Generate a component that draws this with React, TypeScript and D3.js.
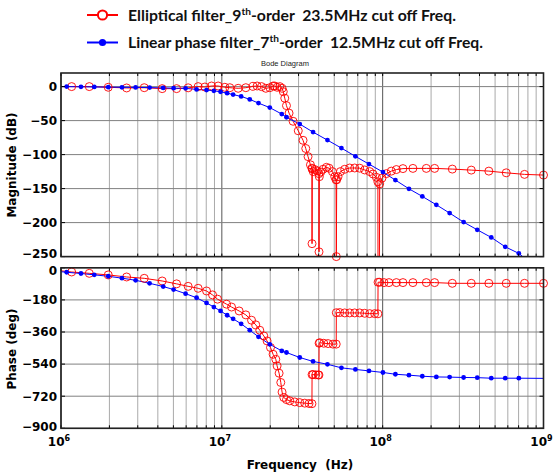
import * as d3 from 'd3'

// Linear phase filter (7th order): frequency grid in MHz, magnitude in dB, phase in degrees
const blueFreqMHz = [
  1.0, 1.085, 1.331, 1.61, 1.967, 2.393, 2.911, 3.555, 4.319, 5.012, 5.951, 6.965, 8.035, 8.92,
  9.815, 10.79, 11.75, 13.18, 14.92, 16.9, 19.87, 23.59, 25.23, 30.51, 36.91, 45.35, 55.4, 67.69,
  82.2, 100.4, 120.0, 145.7, 176.4, 215.6, 260.8, 318.6, 387.4, 473.4, 578.2, 702.5, 1000,
]
const blueMagDb = [
  0, 0, -0.3, -0.5, -0.8, -1.0, -1.2, -1.5, -1.9, -2.3, -2.6, -4.1, -5.1, -6.2, -7.6, -9.6, -11.8,
  -14.4, -18.8, -24.3, -30.9, -40.4, -45.1, -55.1, -66.9, -78.7, -90.4, -102.6, -114, -125.7,
  -137.5, -150.3, -161.5, -173.8, -186, -199.3, -210.6, -221.8, -235.6, -245.3, -275,
]
const bluePhaseDeg = [
  -22, -25, -32, -39.5, -47.5, -58, -70, -87, -105, -122, -145, -168, -197, -220, -242, -266, -286,
  -314, -350, -387, -429, -466, -475, -503, -525, -541, -561, -570, -578, -587, -597, -602, -608,
  -612, -613, -615, -616, -619, -619, -619, -620,
]

// Elliptical filter (9th order) magnitude
const redMagFreqMHz = [
  1.0, 1.165, 1.499, 1.967, 2.559, 3.292, 4.258, 5.232, 6.175, 7.125, 7.843, 8.63, 9.484, 10.44,
  11.21, 12.63, 14.1, 15.65, 16.57, 17.64, 18.77, 19.87, 20.83, 21.34, 22.06, 22.92, 23.69, 24.1,
  24.62, 25.23, 26.18, 27.73, 29.87, 31.99, 33.25, 34.36, 35.56, 36.33, 36.38, 36.49, 37.01, 37.81,
  39.2, 40.15, 40.21, 40.38, 41.2, 42.58, 44.7, 46.4, 48.71, 50.34, 51.29, 51.5, 51.8, 52.77, 54.62,
  58.08, 62.37, 67.0, 71.95, 77.3, 83.06, 87.09, 91.41, 93.37, 93.63, 95.27, 95.81, 99.0, 105.4,
  113.2, 121.7, 133.7, 154.2, 186.8, 210.4, 271.0, 355.6, 457.3, 586.5, 762.0, 1000,
]
const redMagDb = [
  0, 0, 0, -1, -2, -1.6, -3, -3, -1.8, 0, -0.6, 0.9, 0.9, -1, -1.6, -2.5, -1.6, 0.4, 0.9, 0, -2.5,
  -1.6, 0.9, 0.9, -1, 0, -2.5, -7.5, -17, -28, -39, -51, -65, -79, -91, -103, -115, -120, -231,
  -121, -125, -122, -124, -128, -243, -132.5, -125.6, -121.6, -118.7, -120, -125, -132.5, -137,
  -250, -137, -132.5, -125, -121.6, -119.7, -119.7, -120, -122.6, -125, -128.5, -133.4, -140, -320,
  -320, -143, -134.6, -128, -124.3, -122, -120.6, -120.3, -120.3, -120.3, -121.3, -122.8, -124.3,
  -126.8, -129.1, -130.1,
]

// Elliptical filter (9th order) phase, wrapped
const redPhaseFreqMHz = [
  1.0, 1.165, 1.499, 1.967, 2.559, 3.292, 4.258, 5.232, 6.175, 7.125, 8.035, 8.754, 9.404, 10.7,
  11.49, 12.81, 14.1, 15.3, 16.26, 17.22, 18.24, 19.11, 20.07, 20.83, 21.65, 22.06, 22.7, 23.26,
  23.69, 24.28, 25.23, 26.45, 28.4, 30.51, 32.77, 34.84, 36.33, 36.4, 36.91, 38.37, 39.77, 40.15,
  40.25, 40.62, 43.01, 45.73, 49.12, 51.42, 51.5, 54.06, 58.08, 62.37, 67.0, 71.95, 77.3, 83.06,
  89.2, 93.37, 93.63, 95.81, 101.9, 109.4, 121.7, 133.7, 154.2, 186.8, 210.4, 271.0, 355.6, 457.3,
  586.5, 762.0, 1000,
]
const redPhaseDeg = [
  -17, -23.5, -31, -40, -51.5, -59, -74, -90, -104, -115, -130, -152, -176, -204, -220, -242, -264,
  -294, -320, -350, -382, -410, -447, -485, -513, -550, -591, -643, -697, -727, -739, -746, -752,
  -756, -759, -761, -762, -599, -599, -600, -601, -601, -423, -420, -423, -425, -428, -428, -252,
  -251, -253, -253, -253, -253, -255, -257, -257, -258, -81, -81, -83, -83, -83, -83, -83, -83, -83,
  -87, -87, -87, -87, -87, -87,
]

const magTicks = [0, -50, -100, -150, -200, -250]
const phaseTicks = [0, -180, -360, -540, -720, -900]
const decades = [6, 7, 8, 9]

const legendItems = [
  { pre: 'Elliptical filter_9', post: '-order  23.5MHz cut off Freq.', color: '#ff0000', open: true, width: 328 },
  { pre: 'Linear phase filter_7', post: '-order  12.5MHz cut off Freq.', color: '#0000ff', open: false, width: 355 },
]

const RED = '#ff0000'
const BLUE = '#0000ff'
const left = 61
const right = 543.5

const x = d3.scaleLog().domain([1e6, 1e9]).range([left, right])

const fmt = (v: number) => (v < 0 ? '\u2212' + Math.abs(v) : String(v))

type Pt = [number, number]

interface PanelProps {
  id: string
  top: number
  bottom: number
  domain: [number, number]
  ticks: number[]
  red: Pt[]
  blue: Pt[]
  // small vertical shifts for labels that sit on the panel edges
  shift?: Record<number, number>
}

function Panel({ id, top, bottom, domain, ticks, red, blue, shift = {} }: PanelProps) {
  const y = d3.scaleLinear().domain(domain).range([bottom, top])
  const line = d3
    .line<Pt>()
    .x((d) => x(d[0] * 1e6))
    .y((d) => y(d[1]))
  const xTicks = x.ticks()
  const inside = (d: Pt) => d[1] >= domain[0] - 3 && d[0] > 1.0

  return (
    <g>
      <defs>
        <clipPath id={id}>
          <rect x={left} y={top} width={right - left} height={bottom - top} />
        </clipPath>
      </defs>
      {xTicks.map((t) => {
        const major = Math.abs(Math.log10(t) - Math.round(Math.log10(t))) < 1e-9
        return (
          <line
            key={`gx-${t}`}
            x1={x(t)}
            x2={x(t)}
            y1={top}
            y2={bottom}
            stroke={major ? '#555' : '#aaa'}
            strokeWidth={1}
          />
        )
      })}
      {ticks.map((t) => (
        <line key={`gy-${t}`} x1={left} x2={right} y1={y(t)} y2={y(t)} stroke="#808080" strokeWidth={1} />
      ))}
      <g clipPath={`url(#${id})`}>
        <path d={line(red) || ''} fill="none" stroke={RED} strokeWidth={1} />
        <path d={line(blue) || ''} fill="none" stroke={BLUE} strokeWidth={1} />
      </g>
      {red.filter(inside).map((d, i) => (
        <circle
          key={`r-${i}`}
          cx={x(d[0] * 1e6)}
          cy={y(d[1])}
          r={4}
          fill="none"
          stroke={RED}
          strokeWidth={0.9}
        />
      ))}
      {blue
        .filter((d) => inside(d) && d[0] < 999)
        .map((d, i) => (
          <circle key={`b-${i}`} cx={x(d[0] * 1e6)} cy={y(d[1])} r={2.4} fill={BLUE} />
        ))}
      {xTicks.map((t) => (
        <g key={`tx-${t}`} stroke="#000" strokeWidth={1}>
          <line x1={x(t)} x2={x(t)} y1={top} y2={top + 3} />
          <line x1={x(t)} x2={x(t)} y1={bottom} y2={bottom - 3} />
        </g>
      ))}
      {ticks.map((t) => (
        <g key={`ty-${t}`} stroke="#000" strokeWidth={1}>
          <line x1={left} x2={left + 4} y1={y(t)} y2={y(t)} />
          <line x1={right} x2={right - 4} y1={y(t)} y2={y(t)} />
        </g>
      ))}
      <rect
        x={left}
        y={top}
        width={right - left}
        height={bottom - top}
        fill="none"
        stroke="#222"
        strokeWidth={1.6}
      />
      {ticks.map((t) => (
        <text
          key={`ly-${t}`}
          x={left - 4}
          y={y(t) + (shift[t] || 0)}
          dy="0.36em"
          textAnchor="end"
          fontFamily="DejaVu Sans"
          fontWeight="bold"
          fontSize={12}
          fill="#000"
        >
          {fmt(t)}
        </text>
      ))}
    </g>
  )
}

export default function App() {
  const magRed = d3.zip(redMagFreqMHz, redMagDb) as Pt[]
  const magBlue = d3.zip(blueFreqMHz, blueMagDb) as Pt[]
  const phRed = d3.zip(redPhaseFreqMHz, redPhaseDeg) as Pt[]
  const phBlue = d3.zip(blueFreqMHz, bluePhaseDeg) as Pt[]

  return (
    <svg
      width={553}
      height={473}
      style={{ position: 'absolute', left: 0, top: 0, background: '#fff' }}
    >
      <rect width={553} height={473} fill="#fff" />

      {legendItems.map((item, i) => {
        const cy = 15 + i * 27.5
        return (
          <g key={item.pre}>
            <line x1={87} x2={118} y1={cy} y2={cy} stroke={item.color} strokeWidth={2} />
            {item.open ? (
              <circle cx={102.5} cy={cy} r={4.6} fill="#fff" stroke={item.color} strokeWidth={2} />
            ) : (
              <circle cx={102.5} cy={cy} r={3.6} fill={item.color} />
            )}
            <text
              x={128}
              y={cy + 5.5}
              fontFamily="Lato"
              fontWeight="bold"
              fontSize={15.5}
              fill="#111"
              textLength={item.width}
              lengthAdjust="spacingAndGlyphs"
              style={{ whiteSpace: 'pre' }}
            >
              {item.pre}
              <tspan fontSize={10} dy={-6}>
                th
              </tspan>
              <tspan dy={6}>{item.post}</tspan>
            </text>
          </g>
        )
      })}

      <text
        x={285}
        y={66}
        textAnchor="middle"
        fontFamily="Liberation Sans"
        fontSize={7.5}
        fill="#222"
      >
        Bode Diagram
      </text>

      <Panel
        id="clip-mag"
        top={73}
        bottom={256.6}
        domain={[-250, 20]}
        ticks={magTicks}
        red={magRed}
        blue={magBlue}
        shift={{ '-250': -3 }}
      />
      <Panel
        id="clip-phase"
        top={267.8}
        bottom={428.3}
        domain={[-900, 0]}
        ticks={phaseTicks}
        red={phRed}
        blue={phBlue}
        shift={{ '0': 2.5, '-900': -2 }}
      />

      {decades.map((e) => (
        <text
          key={`dx-${e}`}
          x={x(10 ** e) - 2}
          y={446}
          textAnchor="middle"
          fontFamily="DejaVu Sans"
          fontWeight="bold"
          fontSize={12}
          fill="#000"
        >
          10
          <tspan fontSize={8} dy={-5}>
            {e}
          </tspan>
        </text>
      ))}

      <text
        x={300}
        y={469}
        textAnchor="middle"
        fontFamily="DejaVu Sans"
        fontWeight="bold"
        fontSize={12}
        fill="#000"
        style={{ whiteSpace: 'pre' }}
      >
        Frequency  (Hz)
      </text>
      <text
        transform="translate(15.5,165) rotate(-90)"
        textAnchor="middle"
        fontFamily="DejaVu Sans"
        fontWeight="bold"
        fontSize={12}
        fill="#000"
      >
        Magnitude (dB)
      </text>
      <text
        transform="translate(15.5,349) rotate(-90)"
        textAnchor="middle"
        fontFamily="DejaVu Sans"
        fontWeight="bold"
        fontSize={12}
        fill="#000"
      >
        Phase (deg)
      </text>
    </svg>
  )
}
